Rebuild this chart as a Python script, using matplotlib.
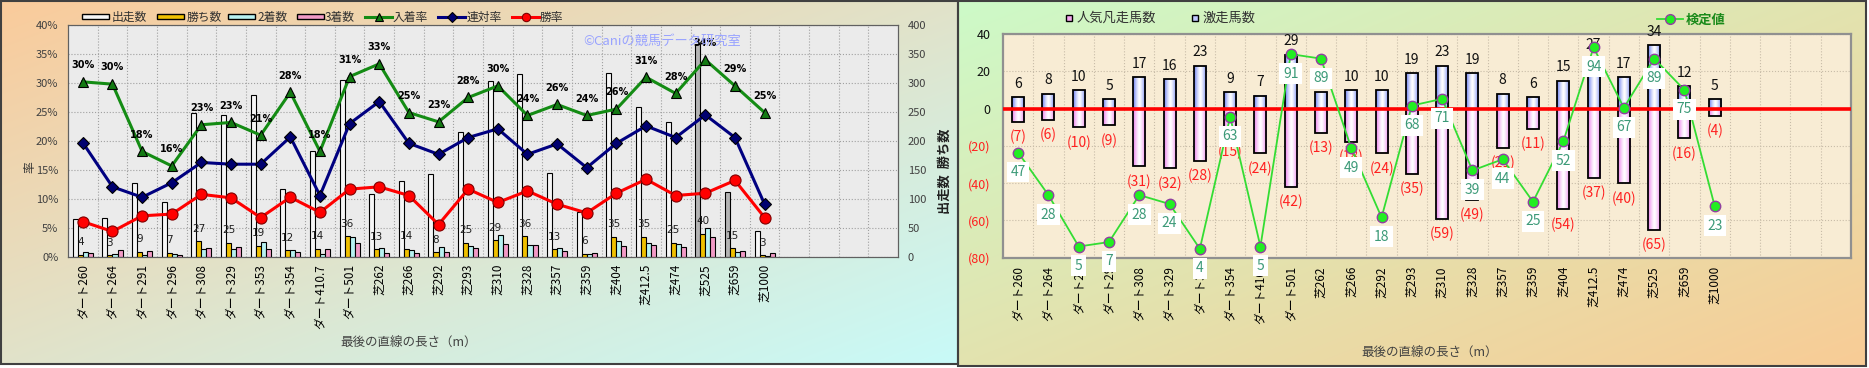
import numpy as np
import matplotlib
matplotlib.use('Agg')
import matplotlib.pyplot as plt
from matplotlib.patches import Rectangle
from matplotlib.lines import Line2D

plt.rcParams['font.family'] = ['Noto Sans CJK JP', 'DejaVu Sans']

# ---------------- data ----------------
cats_left = ['ダート260', 'ダート264', 'ダート291', 'ダート296', 'ダート308', 'ダート329',
             'ダート353', 'ダート354', 'ダート410.7', 'ダート501', '芝262', '芝266', '芝292',
             '芝293', '芝310', '芝328', '芝357', '芝359', '芝404', '芝412.5', '芝474',
             '芝525', '芝659', '芝1000']
cats_right = ['ダート260', 'ダート264', 'ダート29', 'ダート29', 'ダート308', 'ダート329',
              'ダート35', 'ダート354', 'ダート410.', 'ダート501', '芝262', '芝266', '芝292',
              '芝293', '芝310', '芝328', '芝357', '芝359', '芝404', '芝412.5', '芝474',
              '芝525', '芝659', '芝1000']

runs = [66, 68, 127, 95, 249, 245, 279, 117, 182, 305, 109, 131, 143, 215, 304, 315,
        144, 78, 317, 259, 233, 368, 112, 45]
wins = [4, 3, 9, 7, 27, 25, 19, 12, 14, 36, 13, 14, 8, 25, 29, 36, 13, 6, 35, 35, 25,
        40, 15, 3]
seconds = [9, 5, 4, 5, 14, 14, 26, 12, 5, 34, 16, 12, 17, 19, 38, 20, 15, 6, 27, 24,
           23, 50, 8, 1]
thirds = [7, 12, 10, 3, 16, 18, 14, 9, 14, 25, 7, 7, 8, 15, 23, 21, 10, 7, 19, 21, 18,
          35, 10, 7]
place_rate = [30.2, 29.8, 18.2, 15.7, 22.8, 23.2, 21.0, 28.4, 18.2, 31.1, 33.3, 24.9,
              23.3, 27.5, 29.5, 24.4, 26.3, 24.4, 25.5, 31.0, 28.2, 34.0, 29.5, 24.9]
place_labels = [30, 30, 18, 16, 23, 23, 21, 28, 18, 31, 33, 25, 23, 28, 30, 24, 26, 24,
                26, 31, 28, 34, 29, 25]
rentai_rate = [19.7, 12.1, 10.3, 12.8, 16.3, 16.0, 16.0, 20.7, 10.6, 23.0, 26.8, 19.6,
               17.7, 20.6, 22.1, 17.7, 19.5, 15.4, 19.6, 22.6, 20.6, 24.5, 20.6, 9.1]
win_rate = [6.1, 4.4, 7.1, 7.4, 10.8, 10.2, 6.8, 10.3, 7.7, 11.7, 12.1, 10.6, 5.6,
            11.7, 9.4, 11.4, 9.1, 7.6, 11.0, 13.4, 10.6, 11.0, 13.2, 6.8]
highlight_runs = [21, 22]

hot_horses = [6, 8, 10, 5, 17, 16, 23, 9, 7, 29, 9, 10, 10, 19, 23, 19, 8, 6, 15, 27,
              17, 34, 12, 5]
flop_horses = [7, 6, 10, 9, 31, 32, 28, 15, 24, 42, 13, 18, 24, 35, 59, 49, 21, 11, 54,
               37, 40, 65, 16, 4]
test_values = [47, 28, 5, 7, 28, 24, 4, 63, 5, 91, 89, 49, 18, 68, 71, 39, 44, 25, 52,
               94, 67, 89, 75, 23]

left_legend_labels = ['出走数', '勝ち数', '2着数', '3着数', '入着率', '連対率', '勝率']
right_legend_labels = ['人気凡走馬数', '激走馬数']
test_legend_label = '検定値'

n_slots = 28

# colours
C_RUN, C_RUN_HI = '#f6f6f6', '#b4b4b4'
C_WIN, C_2ND, C_3RD = '#f0c000', '#b8f2f2', '#f29ac6'
C_PLACE, C_RENTAI, C_WINR = '#148c14', '#000080', '#ff0000'

# ---------------- figure ----------------
W, H = 1869, 368
fig = plt.figure(figsize=(W / 100, H / 100), dpi=100)

bg = fig.add_axes([0, 0, 1, 1])
bg.axis('off')


def grad(c0, c1, x0, x1, y0, y1):
    nx, ny = 300, 80
    u = np.linspace(0, 1, nx)[None, :]
    v = np.linspace(0, 1, ny)[:, None]
    t = (u + v) / 2
    a = np.array(c0) / 255
    b = np.array(c1) / 255
    img = a[None, None, :] * (1 - t[..., None]) + b[None, None, :] * t[..., None]
    bg.imshow(img, extent=[x0, x1, y1, y0], aspect='auto', interpolation='bilinear')


grad((250, 203, 155), (200, 250, 248), 0, 958, 0, 364)
grad((205, 250, 200), (248, 204, 150), 958, 1866, 0, 366)
bg.add_patch(Rectangle((0.8, 0.8), 957, 363, fill=False, ec='#404040', lw=1.5))
bg.add_patch(Rectangle((958, 0.8), 907.5, 365.5, fill=False, ec='#404040', lw=1.5))

# left legend drawn in pixel coordinates
leg_y = 16.5
patch_items = [(82, C_RUN), (157, C_WIN), (228, C_2ND), (297, C_3RD)]
text_x = [112, 187, 257, 325, 393, 467, 540]
for (px, col) in patch_items:
    bg.add_patch(Rectangle((px, leg_y - 2.6), 27, 5.2, fc=col, ec='black', lw=1.0))
line_items = [(365, C_PLACE, '^', 6, '#137a13', 'black'),
              (438, C_RENTAI, 'D', 5, '#000070', 'black'),
              (512, C_WINR, 'o', 6, C_WINR, '#800000')]
for (lx, col, mk, ms, mfc, mec) in line_items:
    bg.plot([lx, lx + 27], [leg_y, leg_y], color=col, lw=2.2)
    bg.plot([lx + 13.5], [leg_y], marker=mk, ms=ms, mfc=mfc, mec=mec, mew=0.8)
for tx, lab in zip(text_x, left_legend_labels):
    bg.text(tx, leg_y + 0.5, lab, ha='left', va='center', fontsize=8.5, color='#303030')

# right legends
bg.plot([1069], [18], marker='s', ms=5, mfc='#f4a8f0', mec='black', mew=1, ls='none')
bg.text(1077, 18.5, right_legend_labels[0], ha='left', va='center', fontsize=9.5, color='#303030')
bg.plot([1195], [18], marker='s', ms=5, mfc='#c0c8ff', mec='black', mew=1, ls='none')
bg.text(1202, 18.5, right_legend_labels[1], ha='left', va='center', fontsize=9.5, color='#303030')
bg.plot([1657, 1683], [19, 19], color='#33dd33', lw=1.3)
bg.plot([1670], [19], marker='o', ms=7, mfc='#22ee22', mec='#9040a0', mew=1.0)
bg.text(1686, 19.5, test_legend_label, ha='left', va='center', fontsize=9.5,
        fontweight='bold', color='#1a8a1a')

bg.set_xlim(0, W)
bg.set_ylim(H, 0)

x = np.arange(len(cats_left))

# ---------------- left chart ----------------
axL = fig.add_axes([68 / W, 1 - 257 / H, 830 / W, 232 / H])
axL.set_facecolor('#ebebeb')
bw = 0.17
run_colors = [C_RUN_HI if i in highlight_runs else C_RUN for i in range(len(runs))]
axL.bar(x - 1.5 * bw, runs, bw, color=run_colors, edgecolor='black', lw=0.8, zorder=2)
axL.bar(x - 0.5 * bw, wins, bw, color=C_WIN, edgecolor='black', lw=0.8, zorder=2)
axL.bar(x + 0.5 * bw, seconds, bw, color=C_2ND, edgecolor='black', lw=0.8, zorder=2)
axL.bar(x + 1.5 * bw, thirds, bw, color=C_3RD, edgecolor='black', lw=0.8, zorder=2)
for i, w in enumerate(wins):
    axL.annotate(str(w), (i - 0.5 * bw, w), xytext=(0, 9), textcoords='offset points',
                 ha='center', va='center', fontsize=7.5, color='#202020',
                 family='DejaVu Sans', zorder=3)
axL.set_xlim(-0.5, n_slots - 0.5)
axL.set_ylim(0, 400)
axL.set_xticks(x)
axL.set_xticklabels(cats_left, rotation=90, fontsize=8.5)
axL.set_xticks(np.arange(0.5, n_slots - 0.5, 1), minor=True)
axL.tick_params(axis='x', which='major', length=0, pad=5)
axL.tick_params(axis='x', which='minor', length=0)
axL.grid(which='minor', axis='x', ls=':', color='#a0a0a0', lw=0.8)
axL.grid(which='major', axis='y', ls=':', color='#a0a0a0', lw=0.8)
axL.set_axisbelow(True)
for s in axL.spines.values():
    s.set_color('#606060')

axP = axL.twinx()
# twinx moves the original ticks to the left; put the count axis back on the right
axL.yaxis.tick_right()
axL.set_yticks(np.arange(0, 401, 50))
axL.tick_params(axis='y', which='both', left=False, labelleft=False, right=False,
                labelright=True, length=0, pad=7, labelsize=8, labelcolor='#404040')
axP.yaxis.tick_left()
axP.set_ylim(0, 40)
axP.set_yticks(np.arange(0, 41, 5))
axP.set_yticklabels([f'{v}%' for v in range(0, 41, 5)])
axP.tick_params(axis='y', which='both', right=False, labelright=False, left=False,
                labelleft=True, length=0, pad=7, labelsize=8, labelcolor='#404040')
axP.plot(x, place_rate, color=C_PLACE, lw=2.2, marker='^', ms=7, mfc='#137a13',
         mec='black', mew=0.8, zorder=3)
axP.plot(x, rentai_rate, color=C_RENTAI, lw=2.2, marker='D', ms=6, mfc='#000070',
         mec='black', mew=0.8, zorder=3)
axP.plot(x, win_rate, color=C_WINR, lw=2.2, marker='o', ms=8, mfc=C_WINR,
         mec='#800000', mew=0.8, zorder=3)
for i, (v, lab) in enumerate(zip(place_rate, place_labels)):
    axP.annotate(f'{lab}%', (i, v), xytext=(0, 12), textcoords='offset points',
                 ha='center', va='center', fontsize=7, fontweight='bold',
                 family='DejaVu Sans', color='black')
for s in axP.spines.values():
    s.set_color('#606060')

fig.text(662 / W, 1 - 41 / H, '©Caniの競馬データ研究室', ha='center', va='center',
         fontsize=9.5, color=(0.6, 0.64, 1.0), zorder=10)

fig.text(409 / W, 1 - 343 / H, '最後の直線の長さ（m）', ha='center', va='center',
         fontsize=9, color='#404040')
fig.text(30 / W, 1 - 167 / H, '率', rotation=90, ha='center', va='center', fontsize=8.5,
         color='#303030')
fig.text(945 / W, 1 - 171 / H, '出走数  勝ち数', rotation=90, ha='center', va='center',
         fontsize=9.5, fontweight='bold', color='#202020')

# ---------------- right chart ----------------
axR = fig.add_axes([1003 / W, 1 - 257.7 / H, 848 / W, 223.7 / H])
axR.set_facecolor('#f8ecd4')
bw2 = 0.4
u = np.linspace(0, 1, 40)
f = np.abs(2 * u - 1) ** 1.4
blue_edge = np.array([105, 125, 240]) / 255
pink_edge = np.array([235, 125, 235]) / 255
blue_img = (np.ones(3)[None, :] * (1 - f[:, None]) + blue_edge[None, :] * f[:, None])[None, :, :]
pink_img = (np.ones(3)[None, :] * (1 - f[:, None]) + pink_edge[None, :] * f[:, None])[None, :, :]
for i in range(len(hot_horses)):
    axR.imshow(blue_img, extent=[i - bw2 / 2, i + bw2 / 2, 0, hot_horses[i]],
               aspect='auto', zorder=2, interpolation='bilinear')
    axR.imshow(pink_img, extent=[i - bw2 / 2, i + bw2 / 2, -flop_horses[i], 0],
               aspect='auto', zorder=2, interpolation='bilinear')
hot_arr = np.array(hot_horses)
flop_arr = np.array(flop_horses)
axR.bar(x, hot_arr + flop_arr, bw2, bottom=-flop_arr, fill=False, edgecolor='black',
        lw=1.3, zorder=3)
axR.axhline(0, color='#ff0000', lw=2.6, zorder=4)
for i in range(len(hot_horses)):
    axR.annotate(str(hot_horses[i]), (i, hot_horses[i]), xytext=(0, 9.5),
                 textcoords='offset points', ha='center', va='center', fontsize=10,
                 color='#101010', zorder=5)
    axR.annotate(f'({flop_horses[i]})', (i, -flop_horses[i]), xytext=(0, -11),
                 textcoords='offset points', ha='center', va='center', fontsize=10,
                 color='#ff2020', zorder=5)
axR.set_xlim(-0.5, n_slots - 0.5)
axR.set_ylim(-80, 40)
yt = [-80, -60, -40, -20, 0, 20, 40]
axR.set_yticks(yt)
axR.set_yticklabels([f'({-v})' if v < 0 else str(v) for v in yt])
axR.tick_params(axis='y', length=0, pad=9, labelsize=9)
for lab, v in zip(axR.get_yticklabels(), yt):
    lab.set_color('#ff2020' if v < 0 else '#101010')
axR.set_xticks(x)
axR.set_xticklabels(cats_right, rotation=90, fontsize=8.5)
axR.set_xticks(np.arange(0.5, n_slots - 0.5, 1), minor=True)
axR.tick_params(axis='x', which='major', length=0, pad=6)
axR.tick_params(axis='x', which='minor', length=0)
axR.grid(which='minor', axis='x', ls=':', color='#c8bca8', lw=0.8)
axR.grid(which='major', axis='y', ls=':', color='#c8bca8', lw=0.8)
axR.set_axisbelow(True)
for s in axR.spines.values():
    s.set_color('#909090')
    s.set_linewidth(1.6)

axT = axR.twinx()
axT.set_ylim(0, 100)
axT.set_yticks([])
for s in axT.spines.values():
    s.set_visible(False)
axT.plot(x, test_values, color='#33dd33', lw=1.3, marker='o', ms=7.5, mfc='#22ee22',
         mec='#9040a0', mew=1.0, zorder=3)
for i, t in enumerate(test_values):
    axT.annotate(str(t), (i, t), xytext=(0, -14), textcoords='offset points',
                 ha='center', va='center', fontsize=10, color='#3c9a78',
                 bbox=dict(boxstyle='square,pad=0.25', fc='white', ec='none'), zorder=6)

fig.text(1430 / W, 1 - 353 / H, '最後の直線の長さ（m）', ha='center', va='center',
         fontsize=9, color='#404040')

fig.savefig('out.png', dpi=100)
